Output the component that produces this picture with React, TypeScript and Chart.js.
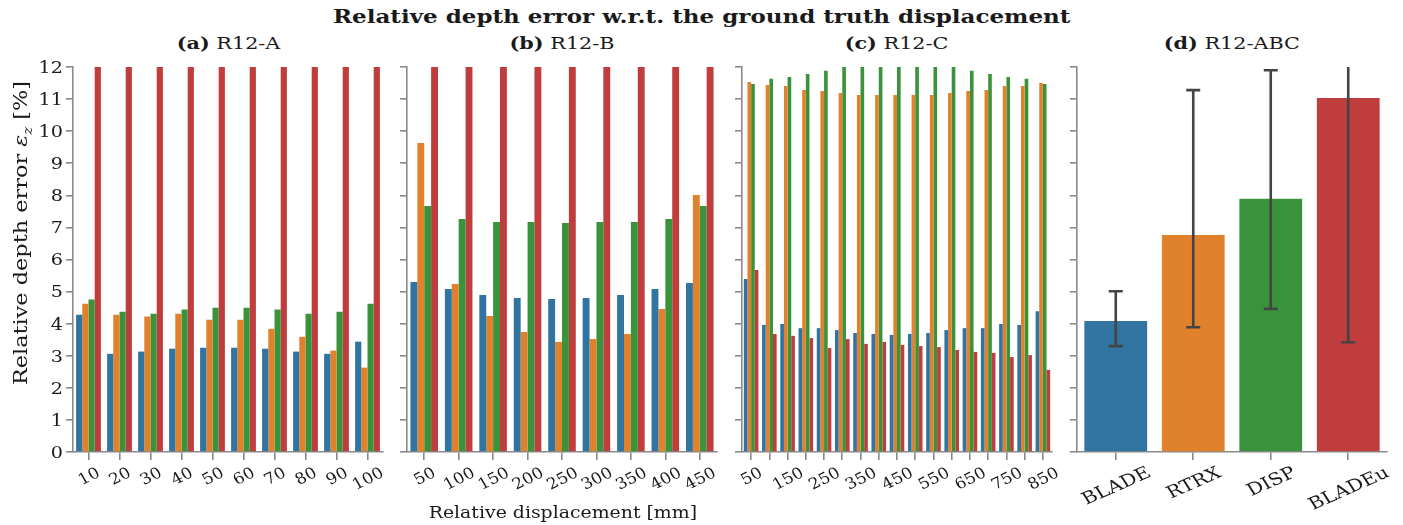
import React, { useEffect, useRef } from 'react';
import { Chart, registerables } from 'chart.js';

Chart.register(...registerables);

// ---------------- data ----------------
const SERIES = ['BLADE', 'RTRX', 'DISP', 'BLADEu'];
const COLORS = ['#3274a1', '#e1812c', '#3a923a', '#c03d3e'];

const catsA = ['10', '20', '30', '40', '50', '60', '70', '80', '90', '100'];
const bladeA = [4.28, 3.06, 3.13, 3.22, 3.25, 3.25, 3.22, 3.13, 3.06, 3.44];
const rtrxA = [4.62, 4.28, 4.22, 4.31, 4.12, 4.12, 3.84, 3.59, 3.16, 2.63];
const dispA = [4.75, 4.37, 4.31, 4.44, 4.5, 4.5, 4.44, 4.31, 4.37, 4.62];
const bladeuA = [15, 15, 15, 15, 15, 15, 15, 15, 15, 15];

const catsB = ['50', '100', '150', '200', '250', '300', '350', '400', '450'];
const bladeB = [5.3, 5.08, 4.89, 4.8, 4.77, 4.8, 4.89, 5.08, 5.27];
const rtrxB = [9.63, 5.24, 4.24, 3.74, 3.43, 3.52, 3.68, 4.46, 8.01];
const dispB = [7.67, 7.26, 7.17, 7.17, 7.14, 7.17, 7.17, 7.26, 7.67];
const bladeuB = [15, 15, 15, 15, 15, 15, 15, 15, 15];

const catsC = ['50', '100', '150', '200', '250', '300', '350', '400', '450', '500', '550', '600', '650', '700', '750', '800', '850'];
const tickLabelsC = ['50', '', '150', '', '250', '', '350', '', '450', '', '550', '', '650', '', '750', '', '850'];
const bladeC = [5.39, 3.96, 3.99, 3.86, 3.86, 3.8, 3.71, 3.68, 3.65, 3.68, 3.71, 3.8, 3.86, 3.86, 3.99, 3.96, 4.39];
const rtrxC = [11.53, 11.44, 11.41, 11.28, 11.25, 11.19, 11.13, 11.13, 11.13, 11.13, 11.13, 11.19, 11.25, 11.28, 11.41, 11.41, 11.5];
const dispC = [11.47, 11.63, 11.69, 11.78, 11.88, 12.3, 12.3, 12.3, 12.3, 12.3, 12.3, 12.1, 11.88, 11.78, 11.69, 11.63, 11.47];
const bladeuC = [5.67, 3.68, 3.62, 3.55, 3.24, 3.52, 3.37, 3.43, 3.34, 3.3, 3.27, 3.18, 3.12, 3.09, 2.96, 3.02, 2.56];

const catsD = ['BLADE', 'RTRX', 'DISP', 'BLADEu'];
const meanD = [4.08, 6.76, 7.89, 11.03];
const ciLowD = [3.3, 3.89, 4.46, 3.42];
const ciHighD = [5.01, 11.28, 11.9, 18.6];

const yTicks = [0, 1, 2, 3, 4, 5, 6, 7, 8, 9, 10, 11, 12];

// ---------------- style ----------------
const FONT = '"DejaVu Serif", serif';
const TEXT = '#1a1a1a';
const AXIS = '#8a8a8a';
const CANVAS_W = 393;
const CANVAS_H = 525;
const Y_AXIS_W = 73;
const X_AXIS_H = 73;
const PLOT_LEFTS = [73, 407, 742, 1077];

function rotatedTicks(labels: string[], size: number, angle: number, top: number, stretch: number) {
  return {
    id: 'rotTicks',
    afterDraw(chart: any) {
      const ctx = chart.ctx;
      const xs = chart.scales.x;
      const ang = (angle * Math.PI) / 180;
      ctx.save();
      ctx.font = `${size}px ${FONT}`;
      ctx.fillStyle = TEXT;
      labels.forEach((lab, i) => {
        if (!lab) return;
        const x = xs.getPixelForTick(i);
        const w = ctx.measureText(lab).width;
        const h = size * 0.73;
        const bh = w * Math.sin(ang) + h * Math.cos(ang);
        const cy = chart.chartArea.bottom + top + bh / 2;
        ctx.save();
        ctx.translate(x, cy);
        ctx.scale(stretch, 1);
        ctx.rotate(-ang);
        ctx.textAlign = 'center';
        ctx.textBaseline = 'alphabetic';
        ctx.fillText(lab, 0, h / 2);
        ctx.restore();
      });
      ctx.restore();
    },
  };
}

const yTickLabels = {
  id: 'yTickLabels',
  afterDraw(chart: any) {
    const ctx = chart.ctx;
    const ys = chart.scales.y;
    const size = 16;
    const xr = chart.chartArea.left - 7 - 3;
    ctx.save();
    ctx.font = `${size}px ${FONT}`;
    ctx.fillStyle = TEXT;
    yTicks.forEach((v) => {
      const y = ys.getPixelForValue(v);
      ctx.save();
      ctx.translate(xr, y);
      ctx.scale(1.2, 1);
      ctx.textAlign = 'right';
      ctx.textBaseline = 'alphabetic';
      ctx.fillText(String(v), 0, (size * 0.73) / 2);
      ctx.restore();
    });
    ctx.restore();
  },
};

const errorBars = {
  id: 'errorBars',
  afterDatasetsDraw(chart: any) {
    const { ctx, chartArea } = chart;
    const meta = chart.getDatasetMeta(0);
    const ys = chart.scales.y;
    ctx.save();
    ctx.beginPath();
    ctx.rect(chartArea.left, chartArea.top, chartArea.width, chartArea.height);
    ctx.clip();
    ctx.strokeStyle = '#444444';
    ctx.lineWidth = 2.6;
    ctx.lineCap = 'butt';
    meta.data.forEach((bar: any, i: number) => {
      const x = bar.x;
      const yl = ys.getPixelForValue(ciLowD[i]);
      const yh = ys.getPixelForValue(ciHighD[i]);
      ctx.beginPath();
      ctx.moveTo(x, yl);
      ctx.lineTo(x, yh);
      ctx.moveTo(x - 7, yl);
      ctx.lineTo(x + 7, yl);
      ctx.moveTo(x - 7, yh);
      ctx.lineTo(x + 7, yh);
      ctx.stroke();
    });
    ctx.restore();
  },
};

function makeOptions(categoryPercentage: number, barPercentage: number) {
  return {
    animation: false,
    responsive: false,
    maintainAspectRatio: false,
    layout: { padding: { top: 67, right: CANVAS_W - Y_AXIS_W - 310, bottom: 0, left: 0 } },
    datasets: { bar: { categoryPercentage, barPercentage, borderWidth: 0 } },
    plugins: { legend: { display: false }, tooltip: { enabled: false }, title: { display: false } },
    scales: {
      x: {
        offset: true,
        grid: { offset: false, drawOnChartArea: false, drawTicks: true, tickLength: 8, color: AXIS, lineWidth: 1.6 },
        border: { display: true, color: AXIS, width: 1.6 },
        ticks: { display: false, autoSkip: false },
        afterFit: (s: any) => {
          s.height = X_AXIS_H;
        },
      },
      y: {
        min: 0,
        max: 12,
        afterBuildTicks: (s: any) => {
          s.ticks = yTicks.map((v) => ({ value: v }));
        },
        ticks: { display: false },
        grid: { drawOnChartArea: false, drawTicks: true, tickLength: 7, color: AXIS, lineWidth: 1.6 },
        border: { display: true, color: AXIS, width: 1.6 },
        afterFit: (s: any) => {
          s.width = Y_AXIS_W;
        },
      },
    },
  };
}

function groupedData(cats: string[], a: number[], b: number[], c: number[], d: number[]) {
  return {
    labels: cats,
    datasets: [a, b, c, d].map((vals, i) => ({
      label: SERIES[i],
      data: vals,
      backgroundColor: COLORS[i],
    })),
  };
}

function Panel({ index, build }: { index: number; build: () => any }) {
  const ref = useRef<HTMLCanvasElement | null>(null);
  useEffect(() => {
    if (!ref.current) return;
    const chart = new Chart(ref.current, build());
    return () => chart.destroy();
  }, []);
  return (
    <canvas
      ref={ref}
      width={CANVAS_W}
      height={CANVAS_H}
      style={{ position: 'absolute', left: PLOT_LEFTS[index] - Y_AXIS_W, top: 0, width: CANVAS_W, height: CANVAS_H }}
    />
  );
}

const buildA = () => ({
  type: 'bar',
  data: groupedData(catsA, bladeA, rtrxA, dispA, bladeuA),
  options: makeOptions(0.8, 1),
  plugins: [rotatedTicks(catsA, 15.5, 28, 14, 1.1), yTickLabels],
});
const buildB = () => ({
  type: 'bar',
  data: groupedData(catsB, bladeB, rtrxB, dispB, bladeuB),
  options: makeOptions(0.8, 1),
  plugins: [rotatedTicks(catsB, 15.5, 28, 14, 1.1)],
});
const buildC = () => ({
  type: 'bar',
  data: groupedData(catsC, bladeC, rtrxC, dispC, bladeuC),
  options: makeOptions(0.8, 1),
  plugins: [rotatedTicks(tickLabelsC, 15.5, 28, 14, 1.1)],
});
const buildD = () => ({
  type: 'bar',
  data: {
    labels: catsD,
    datasets: [{ label: 'mean', data: meanD, backgroundColor: COLORS }],
  },
  options: makeOptions(1, 0.81),
  plugins: [rotatedTicks(catsD, 17, 28, 13, 1.2), errorBars],
});

const stretchText = (k: number): React.CSSProperties => ({
  display: 'inline-block',
  transform: `scaleX(${k})`,
  transformOrigin: 'center',
});

const subtitleStyle = (cx: number): React.CSSProperties => ({
  position: 'absolute',
  left: cx - 150,
  width: 300,
  top: 33,
  textAlign: 'center',
  fontFamily: FONT,
  fontSize: 17,
  lineHeight: '20px',
  color: TEXT,
  whiteSpace: 'nowrap',
});

const panelTitles = [
  ['(a)', 'R12-A'],
  ['(b)', 'R12-B'],
  ['(c)', 'R12-C'],
  ['(d)', 'R12-ABC'],
];

export default function App() {
  return (
    <div
      style={{
        position: 'fixed',
        left: 0,
        top: 0,
        width: 1403,
        height: 525,
        background: '#ffffff',
        overflow: 'hidden',
      }}
    >
      <div
        style={{
          position: 'absolute',
          left: 0,
          width: 1403,
          top: 4,
          textAlign: 'center',
          fontFamily: FONT,
          fontWeight: 'bold',
          fontSize: 19,
          lineHeight: '24px',
          color: TEXT,
          whiteSpace: 'nowrap',
        }}
      >
        <span style={stretchText(1.21)}>Relative depth error w.r.t. the ground truth displacement</span>
      </div>
      {panelTitles.map((t, i) => (
        <div key={i} style={subtitleStyle(PLOT_LEFTS[i] + 155)}>
          <span style={stretchText(1.22)}>
            <b>{t[0]}</b> {t[1]}
          </span>
        </div>
      ))}
      <Panel index={0} build={buildA} />
      <Panel index={1} build={buildB} />
      <Panel index={2} build={buildC} />
      <Panel index={3} build={buildD} />
      <div
        style={{
          position: 'absolute',
          left: 563 - 200,
          width: 400,
          top: 502,
          textAlign: 'center',
          fontFamily: FONT,
          fontSize: 17,
          lineHeight: '20px',
          color: TEXT,
          whiteSpace: 'nowrap',
        }}
      >
        <span style={stretchText(1.11)}>Relative displacement [mm]</span>
      </div>
      <div
        style={{
          position: 'absolute',
          left: 21 - 200,
          top: 233 - 11,
          width: 400,
          height: 22,
          lineHeight: '22px',
          textAlign: 'center',
          transform: 'rotate(-90deg) scaleX(1.245)',
          fontFamily: FONT,
          fontSize: 18,
          color: TEXT,
          whiteSpace: 'nowrap',
        }}
      >
        Relative depth error <i>ε</i>
        <sub style={{ fontSize: 12, fontStyle: 'italic' }}>z</sub> [%]
      </div>
    </div>
  );
}
